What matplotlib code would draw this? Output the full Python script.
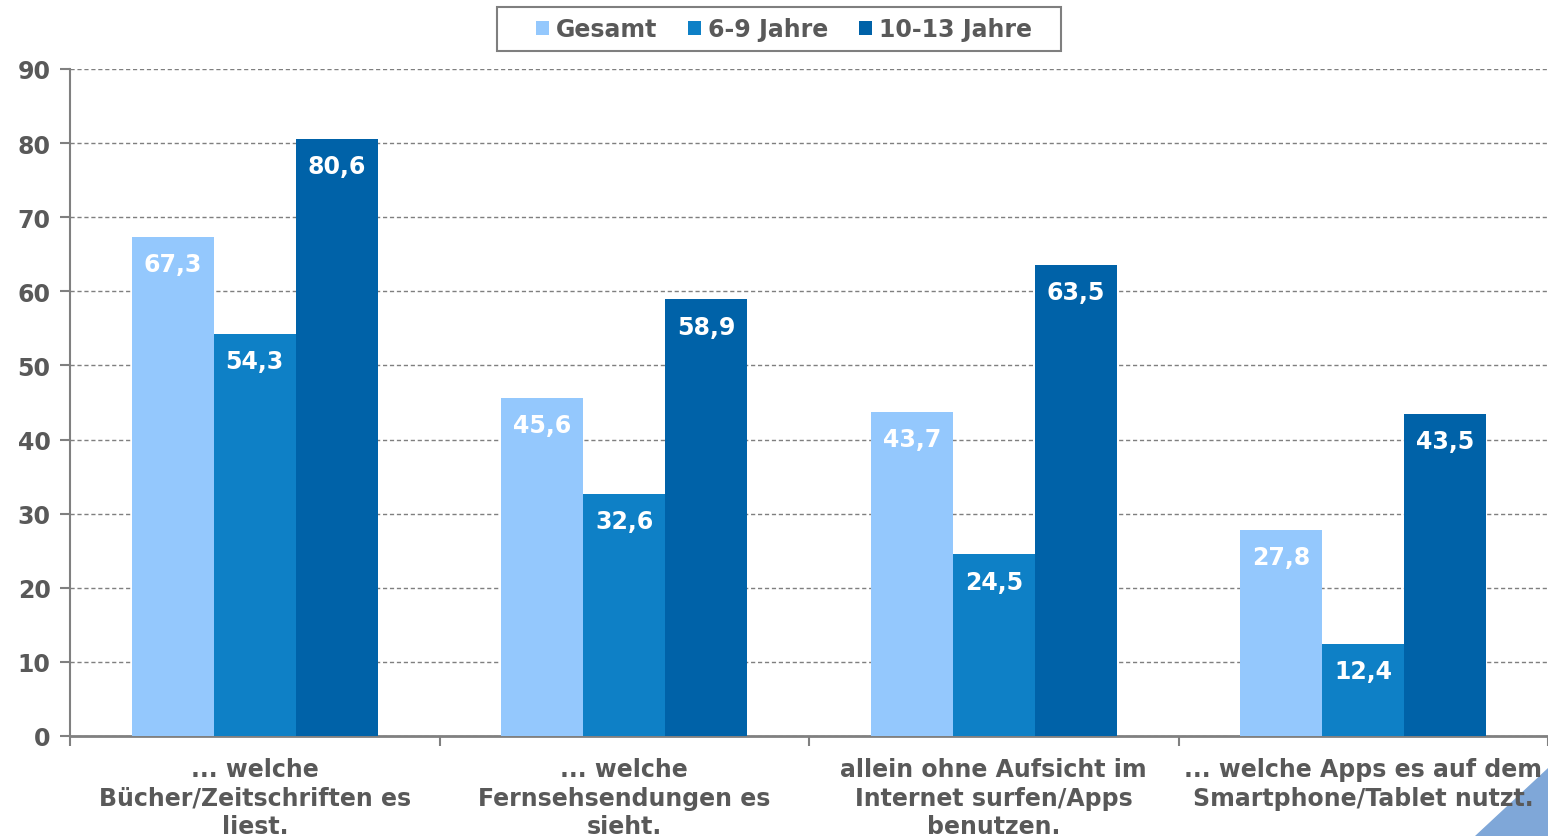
import matplotlib
matplotlib.use("Agg")
import matplotlib.pyplot as plt
import numpy as np
from matplotlib.patches import Polygon, Rectangle

categories = ["... welche\nBücher/Zeitschriften es\nliest.",
              "... welche\nFernsehsendungen es\nsieht.",
              "allein ohne Aufsicht im\nInternet surfen/Apps\nbenutzen.",
              "... welche Apps es auf dem\nSmartphone/Tablet nutzt."]
series_names = ["Gesamt", "6-9 Jahre", "10-13 Jahre"]
gesamt = [67.3, 45.6, 43.7, 27.8]
jahre_6_9 = [54.3, 32.6, 24.5, 12.4]
jahre_10_13 = [80.6, 58.9, 63.5, 43.5]
yticks = [0, 10, 20, 30, 40, 50, 60, 70, 80, 90]

colors = ["#94C8FD", "#0E80C6", "#0062A8"]
text_col = "#595959"
fs = 17

plt.rcParams['font.family'] = ['DejaVu Sans']
fig = plt.figure(figsize=(15.48, 8.37), dpi=100)
ax = fig.add_axes([70/1548, 1-737/837, 1-70/1548, (737-70)/837])
ax.patch.set_alpha(0)
ax.set_zorder(2)

x = np.arange(len(categories))
w = 0.2216
for i, (vals, name) in enumerate(zip([gesamt, jahre_6_9, jahre_10_13], series_names)):
    bars = ax.bar(x + (i-1)*w, vals, width=w, color=colors[i], label=name, zorder=3)
    for b, v in zip(bars, vals):
        ax.annotate(f"{v:.1f}".replace(".", ","), (b.get_x()+b.get_width()/2, v),
                    xytext=(0, -19.5), textcoords="offset points",
                    ha="center", va="center", color="white",
                    fontsize=fs, fontweight="bold", zorder=4)

ax.set_xlim(-0.5, 3.5)
ax.set_ylim(0, 90)
ax.set_yticks(yticks)
ax.set_yticklabels([str(t) for t in yticks], fontsize=fs, fontweight="bold", color=text_col)
ax.yaxis.grid(True, linestyle=(0, (3, 2)), color="#7F7F7F", linewidth=1.0, zorder=0)
ax.set_axisbelow(True)

ax.set_xticks(x)
ax.set_xticklabels(categories, fontsize=fs, fontweight="bold", color=text_col, linespacing=1.25)
ax.tick_params(axis="x", which="major", length=0, pad=15)
ax.set_xticks(np.arange(-0.5, 3.6, 1.0), minor=True)
ax.tick_params(axis="x", which="minor", length=7, color="#808080", width=1.5, direction="out")
ax.tick_params(axis="y", length=7, color="#808080", width=1.5, pad=7)

for s in ["top", "right"]:
    ax.spines[s].set_visible(False)
ax.spines["left"].set_color("#808080")
ax.spines["left"].set_linewidth(1.5)
ax.spines["bottom"].set_color("#808080")
ax.spines["bottom"].set_linewidth(2)

leg = fig.legend(loc="center", bbox_to_anchor=(784/1548, 1-30/837), ncol=3,
                 prop={"size": fs, "weight": "bold"}, frameon=False,
                 handlelength=0.55, handleheight=0.55,
                 handletextpad=0.3, columnspacing=1.3, borderpad=0.4, borderaxespad=0)
for t in leg.get_texts():
    t.set_color(text_col)
frame = Rectangle((497/1548, 1-52/837), (1061-497)/1548, 44/837, transform=fig.transFigure,
                  fill=False, edgecolor="#7F7F7F", linewidth=1.5)
fig.patches.append(frame)

# decorative corner triangle (behind everything)
tri = Polygon([[1475/1548, 0], [1548/1548, 0], [1548/1548, 68/837]], closed=True,
              transform=fig.transFigure, color="#7FA7D8", zorder=-5)
fig.patches.append(tri)

fig.savefig("out.png", dpi=100)
